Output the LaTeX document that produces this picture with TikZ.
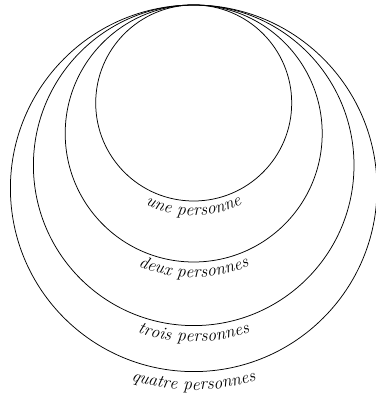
\documentclass[tikz,border=0pt]{standalone}
\usetikzlibrary{decorations.text}
\tikzset{
  ring/.style={draw=black, line width=0.75pt},
  arclabel/.style={decorate, decoration={text along path, text align=center,
     text format delimiters={|}{|}, text={|\itshape\fontsize{17.6}{20}\selectfont|#1}}}
}
\begin{document}
\begin{tikzpicture}[x=1pt,y=1pt]
\useasboundingbox (0,0) rectangle (375,396);
\coordinate (c1) at (193.7,293);
\coordinate (c2) at (193.7,262.5);
\coordinate (c3) at (193.7,230.7);
\coordinate (c4) at (193.7,207.7);
\draw[ring] (c1) circle[radius=98];
\draw[ring] (c2) circle[radius=128.5];
\draw[ring] (c3) circle[radius=160.3];
\draw[ring] (c4) circle[radius=183.3];
\path[arclabel={une personne}] ([shift={(200:112.5)}]c1) arc[start angle=200, end angle=340, radius=112.5];
\path[arclabel={deux personnes}] ([shift={(200:144)}]c2) arc[start angle=200, end angle=340, radius=144];
\path[arclabel={trois personnes}] ([shift={(200:176.4)}]c3) arc[start angle=200, end angle=340, radius=176.4];
\path[arclabel={quatre personnes}] ([shift={(210:201.7)}]c4) arc[start angle=210, end angle=330, radius=201.7];
\end{tikzpicture}
\end{document}
